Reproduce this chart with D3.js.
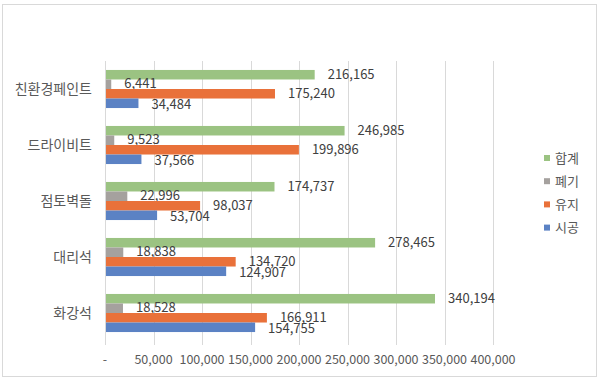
<!DOCTYPE html>
<html><head><meta charset="utf-8">
<script src="https://cdn.jsdelivr.net/npm/d3@7/dist/d3.min.js"></script>
<style>body{margin:0;background:#fff}</style>
</head><body><svg id="c" width="600" height="379"></svg>
<script>
const categories = ["친환경페인트","드라이비트","점토벽돌","대리석","화강석"];
const seriesNames = ["합계","폐기","유지","시공"];
const total   = [216165, 246985, 174737, 278465, 340194];
const disposal= [6441, 9523, 22996, 18838, 18528];
const maint   = [175240, 199896, 98037, 134720, 166911];
const constr  = [34484, 37566, 53704, 124907, 154755];
const seriesValues = [total, disposal, maint, constr];
const colors = ["#9bc382","#a5a19e","#e9713a","#5b82c4"];
const xTicks = [0,50000,100000,150000,200000,250000,300000,350000,400000];

(function(){
const svg = d3.select("#c");
const font = "'Noto Sans CJK KR', 'Noto Sans', sans-serif";
svg.append("rect").attr("x",2.5).attr("y",4.5).attr("width",594).attr("height",372)
  .attr("fill","#fff").attr("stroke","#d9d9d9");

const pL=105, pR=493, pT=61, pB=341;
const x = d3.scaleLinear().domain([0,400000]).range([pL,pR]);
const y = d3.scaleBand().domain(categories).range([pT,pB]).paddingInner(0.32).paddingOuter(0.16);
const ys = d3.scaleBand().domain(seriesNames).range([0,y.bandwidth()]);
const nudge = [0,-0.5,-0.5,0.8];

svg.append("g").selectAll("line").data(xTicks).join("line")
  .attr("x1",d=>Math.round(x(d))+0.5).attr("x2",d=>Math.round(x(d))+0.5)
  .attr("y1",pT).attr("y2",pB+4).attr("stroke","#d9d9d9").attr("stroke-width",1);

seriesNames.forEach((s,si)=>{
  const g = svg.append("g");
  g.selectAll("rect").data(categories).join("rect")
    .attr("x",x(0)).attr("y",c=>y(c)+ys(s))
    .attr("width",(c,i)=>x(seriesValues[si][i])-x(0))
    .attr("height",ys.bandwidth()).attr("fill",colors[si]);
  g.selectAll("text").data(categories).join("text")
    .attr("x",(c,i)=>x(seriesValues[si][i])+13)
    .attr("y",c=>y(c)+ys(s)+ys.bandwidth()/2+nudge[si])
    .attr("dy","0.35em").attr("font-family",font).attr("font-size",13)
    .attr("fill","#404040")
    .text((c,i)=>d3.format(",")(seriesValues[si][i]));
});

svg.append("line").attr("x1",pL+0.5).attr("x2",pL+0.5).attr("y1",pT).attr("y2",pB+4)
  .attr("stroke","#d9d9d9");

svg.append("g").selectAll("text").data(xTicks).join("text")
  .attr("x",d=>x(d)).attr("y",360).attr("dy","0.35em").attr("text-anchor","middle")
  .attr("font-family",font).attr("font-size",12.5).attr("fill","#595959")
  .text(d=>d===0?"-":d3.format(",")(d));

svg.append("g").selectAll("text").data(categories).join("text")
  .attr("x",92).attr("y",c=>y(c)+y.bandwidth()/2).attr("dy","0.35em").attr("text-anchor","end")
  .attr("font-family",font).attr("font-size",14).attr("fill","#595959").text(c=>c);

const lg = svg.append("g");
seriesNames.forEach((s,i)=>{
  const ly = 158 + i*23.2;
  lg.append("rect").attr("x",544).attr("y",ly-3).attr("width",6).attr("height",6).attr("fill",colors[i]);
  lg.append("text").attr("x",555).attr("y",ly).attr("dy","0.35em")
    .attr("font-family",font).attr("font-size",13).attr("fill","#595959").text(s);
});
})();
</script></body></html>
